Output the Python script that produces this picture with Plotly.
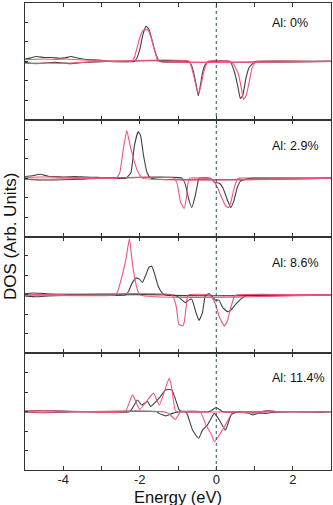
import plotly.graph_objects as go
from plotly.subplots import make_subplots

# ── Data (energy in eV, DOS in arbitrary units) ──────────────────────────────
LABELS = ["Al: 0%", "Al: 2.9%", "Al: 8.6%", "Al: 11.4%"]
LABEL_Y = [1.95, 1.63, 1.65, 1.72]

# Al 0%
P1_E_BLACK_UP = [-5.0, -4.85, -4.7, -4.5, -4.3, -4.1, -3.95, -3.8, -3.6, -3.4, -3.2, -3.0, -2.8,
                 -2.15, -2.08, -2.0, -1.92, -1.84, -1.76, -1.68, -1.6, -1.52, -1.47, 3.0]
P1_BLACK_UP = [0.12, 0.18, 0.25, 0.2, 0.2, 0.16, 0.18, 0.25, 0.16, 0.1, 0.08, 0.05, 0.0,
               0.0, 0.15, 0.6, 1.35, 1.8, 1.65, 1.1, 0.5, 0.1, 0.0, 0.0]
P1_E_BLACK_DN = [-5.0, -4.8, -4.5, -4.2, -4.0, -3.8, -3.5, -3.2, -2.9,
                 -0.71, -0.66, -0.6, -0.53, -0.47, -0.42, -0.37, -0.31, -0.24, -0.2,
                 0.36, 0.48, 0.57, 0.63, 0.69, 0.78, 0.86, 0.99, 1.05, 3.0]
P1_BLACK_DN = [-0.05, -0.1, -0.08, -0.05, -0.08, -0.12, -0.06, -0.03, 0.0,
               0.0, -0.15, -0.5, -1.15, -1.77, -1.3, -0.7, -0.25, -0.05, 0.0,
               0.0, -0.57, -1.34, -1.91, -1.77, -0.83, -0.31, -0.05, 0.0, 0.0]
P1_E_RED_UP = [-5.0, -4.8, -4.5, -4.2, -3.9, -3.6, -3.3, -3.0, -2.7,
               -2.21, -2.14, -2.07, -2.0, -1.93, -1.85, -1.78, -1.7, -1.62, -1.55, -1.5, 3.0]
P1_RED_UP = [0.08, 0.1, 0.12, 0.1, 0.12, 0.08, 0.06, 0.03, 0.0,
             0.0, 0.2, 0.7, 1.2, 1.55, 1.63, 1.6, 1.2, 0.6, 0.15, 0.0, 0.0]
P1_E_RED_DN = [-5.0, -4.7, -4.4, -4.1, -3.8, -3.5, -3.0,
               -0.71, -0.61, -0.52, -0.47, -0.41, -0.32, -0.21,
               0.36, 0.45, 0.58, 0.66, 0.71, 0.78, 0.86, 0.94, 1.03, 1.08, 3.0]
P1_RED_DN = [-0.1, -0.12, -0.08, -0.1, -0.08, -0.05, 0.0,
             0.0, -0.57, -1.34, -1.65, -1.34, -0.48, 0.0,
             0.0, -0.14, -0.65, -1.43, -1.96, -1.77, -1.08, -0.31, -0.05, 0.0, 0.0]

# Al 2.9%
P2_E_BLACK_UP = [-5.0, -4.8, -4.6, -4.4, -4.2, -4.0, -3.7, -3.4, -3.1, -2.8,
                 -2.36, -2.23, -2.14, -2.04, -1.98, -1.9, -1.81, -1.71, 3.0]
P2_BLACK_UP = [0.08, 0.12, 0.2, 0.1, 0.08, 0.06, 0.08, 0.05, 0.04, 0.0,
               0.0, 0.29, 1.67, 2.39, 2.2, 1.15, 0.29, 0.0, 0.0]
P2_E_BLACK_DN = [-5.0, -4.5, -4.0, -3.5, -3.0,
                 -0.9, -0.81, -0.73, -0.64, -0.55, -0.49, -0.45,
                 -0.15, -0.05, 0.08, 0.17, 0.3, 0.38, 0.46, 0.55, 0.64, 0.77, 0.94, 3.0]
P2_BLACK_DN = [-0.05, -0.1, -0.08, -0.05, 0.0,
               0.0, -0.31, -1.0, -1.51, -0.91, -0.31, 0.0,
               0.0, -0.22, -0.26, -0.48, -1.17, -1.51, -1.17, -0.48, -0.14, -0.05, 0.0, 0.0]
P2_E_RED_UP = [-5.0, -4.6, -4.2, -3.8, -3.0,
               -2.61, -2.52, -2.43, -2.34, -2.25, -2.16, -2.06, -1.93, 3.0]
P2_RED_UP = [0.04, 0.06, 0.05, 0.04, 0.0,
             0.0, 0.29, 1.5, 2.44, 1.67, 0.98, 0.38, 0.0, 0.0]
P2_E_RED_DN = [-5.0, -4.6, -4.2, -3.8, -3.0,
               -1.1, -1.02, -0.93, -0.84, -0.78, -0.73, -0.7,
               -0.13, -0.05, 0.03, 0.14, 0.25, 0.32, 0.38, 0.46, 0.55, 0.6, 3.0]
P2_RED_DN = [-0.05, -0.06, -0.05, -0.03, 0.0,
             0.0, -0.31, -1.25, -1.56, -1.0, -0.14, 0.0,
             -0.05, -0.19, -0.48, -1.0, -1.43, -1.51, -1.25, -0.57, -0.05, 0.0, 0.0]

# Al 8.6%
P3_E_BLACK_UP = [-5.0, -4.8, -4.6, -4.3, -4.0, -3.5,
                 -2.36, -2.28, -2.19, -2.09, -2.01, -1.93, -1.85, -1.76, -1.69, -1.61, -1.52, -1.42, -1.33, 3.0]
P3_BLACK_UP = [0.05, 0.1, 0.08, 0.04, 0.03, 0.0,
               0.0, 0.24, 0.64, 0.86, 0.81, 0.64, 0.98, 1.41, 1.48, 1.07, 0.46, 0.12, 0.0, 0.0]
P3_E_BLACK_DN = [-5.0, -4.7, -4.4, -4.0, -3.5,
                 -1.19, -1.05, -0.92, -0.81, -0.72, -0.64, -0.53, -0.45, -0.36, -0.29, -0.23, -0.19,
                 -0.1, -0.02, 0.07, 0.17, 0.29, 0.38, 0.51, 0.64, 0.77, 0.9, 3.0]
P3_BLACK_DN = [-0.05, -0.1, -0.06, -0.03, 0.0,
               0.0, -0.05, -0.22, -0.4, -0.27, -0.22, -0.91, -1.31, -0.91, -0.05, 0.03, 0.07,
               -0.1, -0.27, -0.27, -0.65, -0.86, -0.79, -0.48, -0.22, -0.05, 0.0, 0.0]
P3_E_RED_UP = [-5.0, -2.64, -2.59, -2.45, -2.37, -2.27, -2.2, -2.11, -2.0, 3.0]
P3_RED_UP = [0.0, 0.0, 0.12, 1.07, 1.75, 2.88, 1.75, 0.64, 0.0, 0.0]
P3_E_RED_DN = [-5.0, -1.16, -1.1, -1.04, -0.98, -0.89, -0.84, -0.78, -0.74,
               -0.19, -0.1, -0.02, 0.09, 0.21, 0.29, 0.38, 0.47, 0.53, 3.0]
P3_RED_DN = [0.0, 0.0, -0.22, -0.65, -1.51, -1.6, -1.43, -0.48, 0.0,
             0.0, -0.17, -0.48, -1.17, -1.6, -1.34, -0.65, -0.1, 0.0, 0.0]

# Al 11.4%
P4_E_BLACK_UP = [-5.0, -4.6, -4.2, -3.5,
                 -2.26, -2.06, -1.95, -1.8, -1.71, -1.62, -1.45, -1.32, -1.16, -0.97, -0.89,
                 -0.18, 0.0, 0.17, 1.2, 1.35, 1.5, 3.0]
P4_BLACK_UP = [0.03, 0.06, 0.04, 0.0,
               0.0, 0.6, 0.34, 0.52, 0.26, 0.43, 0.8, 1.12, 1.12, 0.09, 0.0,
               0.0, 0.21, 0.0, 0.0, 0.05, 0.0, 0.0]
P4_E_BLACK_DN = [-5.0, -4.5, -4.0, -3.5,
                 -1.55, -1.5, -1.32, -1.15, -0.95, -0.8, -0.75, -0.62, -0.46, -0.36, -0.23,
                 -0.05, 0.08, 0.24, 0.39, 0.55, 0.8, 0.95, 1.1, 1.3, 1.5, 2.0, 2.5, 2.7, 3.0]
P4_BLACK_DN = [-0.03, -0.05, -0.03, 0.0,
               0.0, -0.09, -0.22, -0.09, 0.0, 0.0, -0.17, -0.95, -1.37, -0.95, -0.69,
               -0.09, -0.43, -0.95, -0.17, 0.0, -0.05, -0.17, -0.08, -0.09, -0.03, 0.0, -0.02, -0.03, 0.0]
P4_E_RED_UP = [-5.0, -4.5, -4.0, -3.5,
               -2.38, -2.19, -2.0, -1.64, -1.49, -1.23, -1.18, -1.07, -1.0, 1.2, 1.4, 1.6, 3.0]
P4_RED_UP = [0.02, 0.04, 0.02, 0.0,
             0.0, 0.86, 0.12, 0.95, 0.34, 1.72, 1.4, 0.05, 0.0, 0.0, 0.05, 0.0, 0.0]
P4_E_RED_DN = [-5.0, -4.5, -4.0, -3.5,
               -1.4, -1.25, -1.07, -0.95, -0.9, -0.42, -0.27, -0.12, -0.05, 0.08, 0.24, 0.44,
               0.7, 1.0, 1.2, 1.5, 3.0]
P4_RED_DN = [-0.03, -0.04, -0.02, 0.0,
             0.0, -0.09, -0.4, -0.05, 0.0, 0.0, -0.69, -1.2, -1.55, -1.2, -0.69, 0.0,
             -0.05, -0.08, -0.03, 0.0, 0.0]

PANELS = [
    (P1_E_BLACK_UP, P1_BLACK_UP, P1_E_BLACK_DN, P1_BLACK_DN, P1_E_RED_UP, P1_RED_UP, P1_E_RED_DN, P1_RED_DN),
    (P2_E_BLACK_UP, P2_BLACK_UP, P2_E_BLACK_DN, P2_BLACK_DN, P2_E_RED_UP, P2_RED_UP, P2_E_RED_DN, P2_RED_DN),
    (P3_E_BLACK_UP, P3_BLACK_UP, P3_E_BLACK_DN, P3_BLACK_DN, P3_E_RED_UP, P3_RED_UP, P3_E_RED_DN, P3_RED_DN),
    (P4_E_BLACK_UP, P4_BLACK_UP, P4_E_BLACK_DN, P4_BLACK_DN, P4_E_RED_UP, P4_RED_UP, P4_E_RED_DN, P4_RED_DN),
]

X_TICKS = [-5, -4, -3, -2, -1, 0, 1, 2, 3]
X_TICKTEXT = ["", "-4", "", "-2", "", "0", "", "2", ""]

# ── Style ─────────────────────────────────────────────────────────────────────
BLACK = "#3a4141"
RED   = "#f0557a"
FRAME = "#333333"
FONT  = "Liberation Sans, Arial, sans-serif"

fig = make_subplots(rows=4, cols=1, shared_xaxes=True, vertical_spacing=0)

for i, (ebu, bu, ebd, bd, eru, ru, erd, rd) in enumerate(PANELS, start=1):
    for xs, ys, col in [(ebu, bu, BLACK), (ebd, bd, BLACK), (eru, ru, RED), (erd, rd, RED)]:
        fig.add_trace(go.Scatter(
            x=xs, y=ys, mode="lines",
            line=dict(color=col, width=1.1, shape="spline", smoothing=0.4),
            showlegend=False, hoverinfo="skip",
        ), row=i, col=1)
    fig.add_annotation(
        x=1.41, y=LABEL_Y[i - 1], xref=f"x{i if i > 1 else ''}", yref=f"y{i if i > 1 else ''}",
        text=LABELS[i - 1], showarrow=False, xanchor="left", yanchor="middle",
        font=dict(size=12.5, color="#111", family=FONT),
    )

# dotted Fermi level line
fig.add_shape(type="line", xref="x4", yref="paper", x0=0, x1=0, y0=0, y1=1,
              line=dict(color="#2f4f5a", width=1, dash="dot"))

fig.update_xaxes(
    range=[-5, 3], tickvals=X_TICKS, ticktext=X_TICKTEXT,
    ticks="inside", ticklen=4, tickcolor=FRAME,
    showline=True, linecolor=FRAME, linewidth=1, mirror="ticks",
    showgrid=False, zeroline=False,
    tickfont=dict(size=13, color="#222", family=FONT),
)
fig.update_xaxes(ticklabelstandoff=-3, row=4, col=1)
fig.update_yaxes(
    range=[-3, 3], dtick=1, showticklabels=False,
    ticks="inside", ticklen=3, tickcolor=FRAME,
    showline=True, linecolor=FRAME, linewidth=1, mirror=True,
    showgrid=False, zeroline=False,
)

fig.add_annotation(
    x=0.5, y=0, xref="paper", yref="paper", text="Energy (eV)",
    showarrow=False, xanchor="center", yanchor="top", yshift=-16,
    font=dict(size=16.5, color="#111", family=FONT),
)
fig.add_annotation(
    x=0, y=0.5, xref="paper", yref="paper", text="DOS (Arb. Units)",
    textangle=-90, showarrow=False, xanchor="right", yanchor="middle", xshift=-3,
    font=dict(size=17, color="#111", family=FONT),
)

fig.update_layout(
    width=333, height=505,
    margin=dict(l=25, r=2, t=3, b=35),
    paper_bgcolor="white", plot_bgcolor="white",
    showlegend=False,
)

fig.write_html("out.html", config={"displayModeBar": False},
               post_script="document.body.style.margin='0';")
